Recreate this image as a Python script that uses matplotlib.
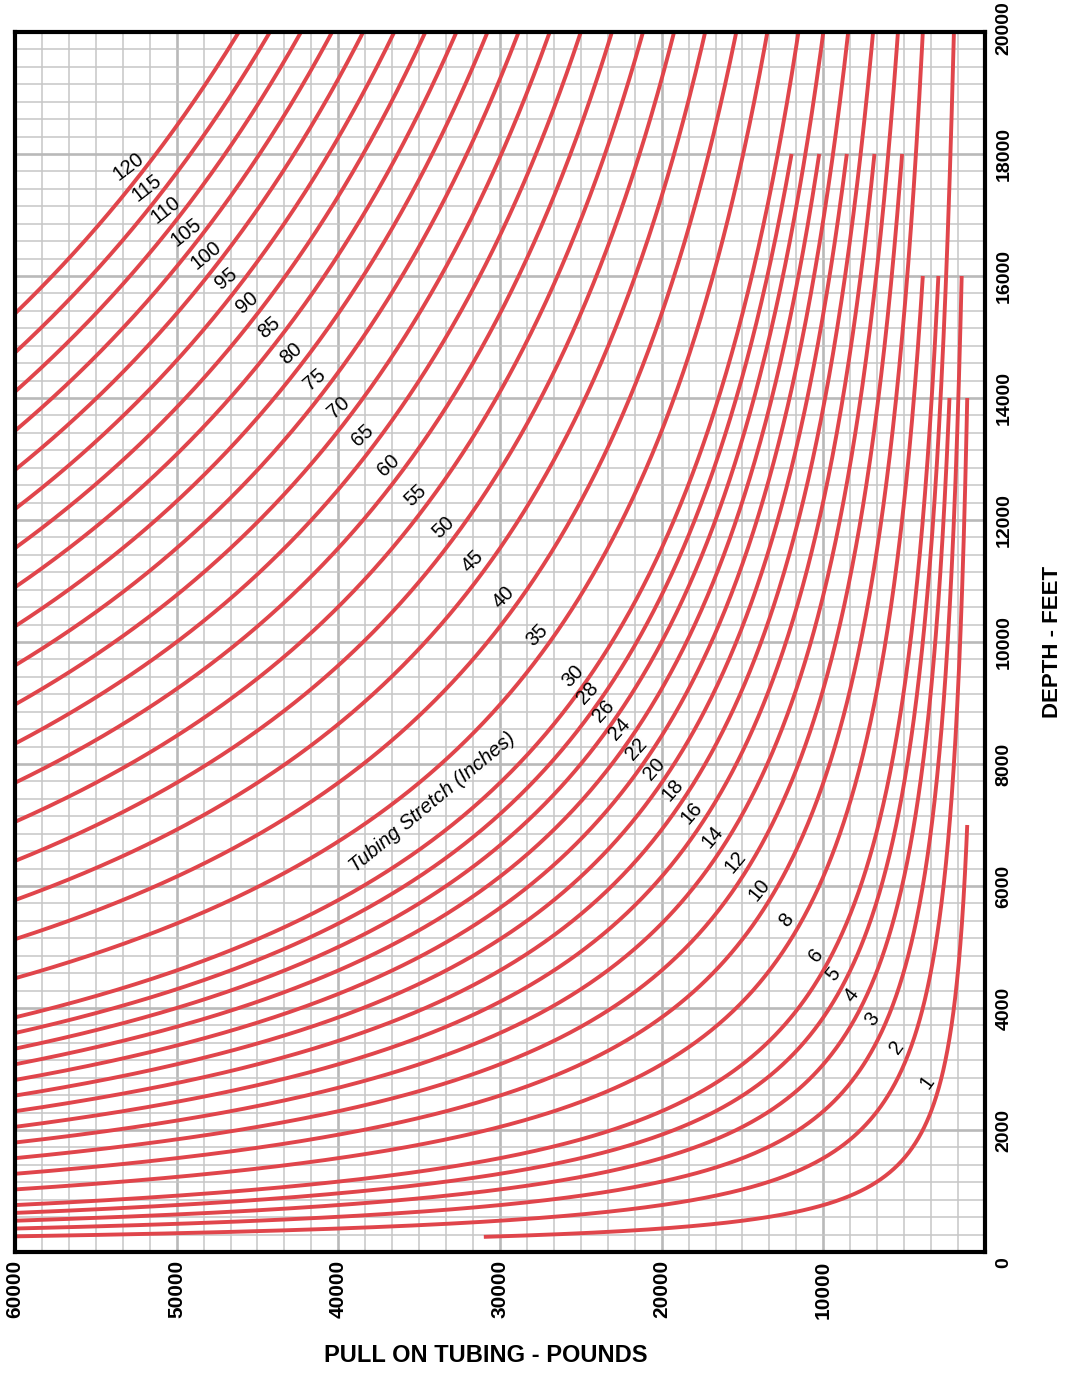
import numpy as np
import matplotlib
matplotlib.use("Agg")
import matplotlib.pyplot as plt
from matplotlib.ticker import MultipleLocator

# ---------------- values ----------------
stretch_in = [1, 2, 3, 4, 5, 6, 8, 10, 12, 14, 16, 18, 20, 22, 24, 26, 28, 30,
              35, 40, 45, 50, 55, 60, 65, 70, 75, 80, 85, 90, 95, 100, 105, 110, 115, 120]
curve_end_depth_ft = [7000, 14000, 16000, 14000, 20000, 16000, 16000, 20000, 18000,
                      20000, 18000, 20000, 18000, 20000, 18000, 20000, 18000, 20000] + [20000] * 18
curve_start_pull_lb = [31000] + [60000] * 35
# inches of stretch per (lb of pull x ft of depth)
stretch_per_lb_ft = 1.3e-7

pull_ticks = [60000, 50000, 40000, 30000, 20000, 10000]
pull_tick_labels = ["60000", "50000", "40000", "30000", "20000", "10000"]
depth_ticks = [0, 2000, 4000, 6000, 8000, 10000, 12000, 14000, 16000, 18000, 20000]
depth_tick_labels = ["0", "2000", "4000", "6000", "8000", "10000", "12000",
                     "14000", "16000", "18000", "20000"]
# diagonal line along which the curve labels sit (pull, depth)
label_guide_pull = [53000, 3700]
label_guide_depth = [17800, 2820]
note_text = "Tubing Stretch (Inches)"
note_pull, note_depth = 34150, 7380

RED = "#E0454B"
FONT = ["Liberation Sans", "DejaVu Sans"]

fig = plt.figure(figsize=(10.7, 13.73), dpi=100)
ax = fig.add_axes([15 / 1070, 121 / 1373, 970 / 1070, 1220 / 1373])
ax.set_xlim(60000, 0)
ax.set_ylim(0, 20000)

# grid
ax.set_xticks(pull_ticks)
ax.set_xticklabels(pull_tick_labels, family=FONT, fontweight="bold", fontsize=15)
ax.set_yticks(depth_ticks)
ax.set_yticklabels([])
ax.xaxis.set_minor_locator(MultipleLocator(10000 / 6))
ax.yaxis.set_minor_locator(MultipleLocator(2000 / 7))
ax.tick_params(axis="both", which="both", length=0)
ax.tick_params(axis="x", pad=6, labelrotation=90)
ax.tick_params(axis="y", left=False, labelleft=False)
ax.set_axisbelow(True)
ax.grid(which="minor", color="#c6c6c6", lw=1.1)
ax.grid(which="major", color="#b9b9b9", lw=1.9)
for sp in ax.spines.values():
    sp.set_linewidth(3.0)
    sp.set_color("black")
    sp.set_zorder(5)

# curves of constant stretch
for s, p0, dend in zip(stretch_in, curve_start_pull_lb, curve_end_depth_ft):
    p_end = s / (stretch_per_lb_ft * dend)
    p = np.geomspace(p0, p_end, 600)
    d = s / (stretch_per_lb_ft * p)
    ax.plot(p, d, color=RED, lw=2.8, solid_capstyle="butt", zorder=3)

# curve labels
pA, pB = label_guide_pull
dA, dB = label_guide_depth
dp, dd = pB - pA, dB - dA
t_zero = min(-pA / dp, -dA / dd)
for s in stretch_in:
    C = s / stretch_per_lb_ft
    roots = np.roots([dp * dd, pA * dd + dA * dp, pA * dA - C])
    roots = [r.real for r in roots if abs(r.imag) < 1e-9 and r.real < t_zero]
    t = max(roots)
    px = pA + t * dp
    dy_ = dA + t * dd
    rot = 37 + 17 * t
    ax.annotate(str(s), xy=(px, dy_), xytext=(-7.0, 8.0), textcoords="offset points",
                ha="center", va="center", rotation=rot, rotation_mode="anchor",
                fontsize=14.5, family=FONT, zorder=4, annotation_clip=False)

ax.annotate(note_text, xy=(note_pull, note_depth), ha="center", va="center",
            rotation=39.5, fontsize=14.5, style="italic", family=FONT, zorder=4)

# depth labels on the right
for v, lab in zip(depth_ticks, depth_tick_labels):
    dy = 0
    if v == 0:
        dy = -8
    elif v == 20000:
        dy = 2.5
    ax.annotate(lab, xy=(1, v), xycoords=("axes fraction", "data"),
                xytext=(13.7, dy), textcoords="offset points", rotation=90,
                ha="center", va="center", fontsize=14, fontweight="bold",
                family=FONT, annotation_clip=False)

fig.text(1052 / 1070, 1 - 642 / 1373, "DEPTH - FEET", rotation=90, ha="center",
         va="center", fontsize=16, fontweight="bold", family=FONT)
fig.text(486 / 1070, 1 - 1356 / 1373, "PULL ON TUBING - POUNDS", ha="center",
         va="center", fontsize=17, fontweight="bold", family=FONT)

fig.savefig("out.png", dpi=100)
